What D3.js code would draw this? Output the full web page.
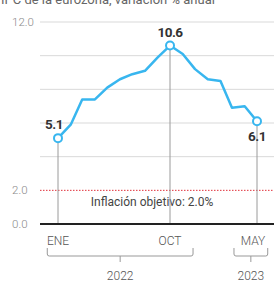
<!DOCTYPE html>
<html>
<head>
<meta charset="utf-8">
<script src="https://cdn.jsdelivr.net/npm/d3@7"></script>
<style>
  body { margin: 0; background: #fff; }
  svg { display: block; font-family: Roboto, "Noto Sans", sans-serif; }
</style>
</head>
<body>
<svg width="274" height="285"></svg>
<script>
// IPC eurozona, variación % anual (ene 2022 - may 2023)
const months = ["2022-01","2022-02","2022-03","2022-04","2022-05","2022-06","2022-07","2022-08",
  "2022-09","2022-10","2022-11","2022-12","2023-01","2023-02","2023-03","2023-04","2023-05"];
const values = [5.1, 5.9, 7.4, 7.4, 8.1, 8.6, 8.9, 9.1, 9.9, 10.6, 10.1, 9.2, 8.6, 8.5, 6.9, 7.0, 6.1];
const gridValues = [4, 6, 8, 10, 12];
const yTickLabels = [0, 2, 12];
const highlighted = [0, 9, 16]; // ENE, OCT, MAY
const monthLabels = ["ENE", "OCT", "MAY"];
const years = [{ label: "2022", from: "2021-12", to: "2022-12" }, { label: "2023", from: "2023-03", to: "2023-06" }];
const target = 2.0;

const parse = d3.timeParse("%Y-%m");
const data = months.map((m, i) => ({ date: parse(m), value: values[i] }));

const svg = d3.select("svg");

// scales
const x = d3.scaleTime()
    .domain([parse("2022-01"), parse("2023-05")])
    .range([58, 257]);
const y = d3.scaleLinear()
    .domain([0, 12])
    .range([224, 22]);

// title (cut off at the top in the original)
svg.append("text")
    .attr("x", 1)
    .attr("y", 4)
    .attr("font-size", 13)
    .attr("fill", "#666")
    .text("IPC de la eurozona, variación % anual");

// gridlines
svg.append("g")
    .selectAll("line")
    .data(gridValues)
    .join("line")
    .attr("x1", 40)
    .attr("x2", 274)
    .attr("y1", d => y(d))
    .attr("y2", d => y(d))
    .attr("stroke", "#d9d9d9")
    .attr("stroke-width", 1);

// y labels
svg.append("g")
    .selectAll("text")
    .data(yTickLabels)
    .join("text")
    .attr("x", 12)
    .attr("y", d => y(d))
    .attr("dy", "0.35em")
    .attr("font-size", 11.5)
    .attr("font-weight", 300)
    .attr("fill", "#8a8a8a")
    .text(d => d.toFixed(1));

// target line
svg.append("line")
    .attr("x1", 40)
    .attr("x2", 274)
    .attr("y1", y(target))
    .attr("y2", y(target))
    .attr("stroke", "#e0303a")
    .attr("stroke-width", 1)
    .attr("stroke-dasharray", "1.5,1.5");

svg.append("text")
    .attr("x", 152)
    .attr("y", y(target) + 16)
    .attr("text-anchor", "middle")
    .attr("font-size", 12)
    .attr("fill", "#444")
    .text("Inflación objetivo: " + target.toFixed(1) + "%");

// vertical drop lines at highlighted months
svg.append("g")
    .selectAll("line")
    .data(highlighted)
    .join("line")
    .attr("x1", i => x(data[i].date))
    .attr("x2", i => x(data[i].date))
    .attr("y1", i => y(data[i].value))
    .attr("y2", y(0))
    .attr("stroke", "#9a9a9a")
    .attr("stroke-width", 1);

// zero axis
svg.append("line")
    .attr("x1", 40)
    .attr("x2", 274)
    .attr("y1", y(0))
    .attr("y2", y(0))
    .attr("stroke", "#222")
    .attr("stroke-width", 2);

// main line
const line = d3.line()
    .x(d => x(d.date))
    .y(d => y(d.value));

svg.append("path")
    .datum(data)
    .attr("fill", "none")
    .attr("stroke", "#38b6ef")
    .attr("stroke-width", 2.5)
    .attr("stroke-linejoin", "round")
    .attr("d", line);

// markers
svg.append("g")
    .selectAll("circle")
    .data(highlighted)
    .join("circle")
    .attr("cx", i => x(data[i].date))
    .attr("cy", i => y(data[i].value))
    .attr("r", 4)
    .attr("fill", "#fff")
    .attr("stroke", "#38b6ef")
    .attr("stroke-width", 2);

// value labels
const labelPos = [
  { dx: -4, dy: -9 },
  { dx: 0, dy: -9 },
  { dx: 0, dy: 20 }
];
svg.append("g")
    .selectAll("text")
    .data(highlighted)
    .join("text")
    .attr("x", (i, k) => x(data[i].date) + labelPos[k].dx)
    .attr("y", (i, k) => y(data[i].value) + labelPos[k].dy)
    .attr("text-anchor", "middle")
    .attr("font-size", 13.5)
    .attr("font-weight", 700)
    .attr("letter-spacing", "-0.5")
    .attr("fill", "#333")
    .text(i => data[i].value.toFixed(1));

// month labels
svg.append("g")
    .selectAll("text")
    .data(highlighted)
    .join("text")
    .attr("x", (i, k) => x(data[i].date) + (k === 2 ? -4 : 0))
    .attr("y", 245)
    .attr("text-anchor", "middle")
    .attr("font-size", 12)
    .attr("font-weight", 300)
    .attr("fill", "#555")
    .text((i, k) => monthLabels[k]);

// year brackets
const bracket = svg.append("g")
    .attr("fill", "none")
    .attr("stroke", "#999")
    .attr("stroke-width", 1);

years.forEach(yr => {
  const x0 = x(parse(yr.from)) + 2;
  const x1 = Math.min(x(parse(yr.to)) - 2, 272);
  const xm = (x0 + x1) / 2;
  bracket.append("path")
      .attr("d", `M${x0},248 V254 Q${x0},256 ${x0 + 2},256 H${x1 - 2} Q${x1},256 ${x1},254 V248 M${xm},256 V262`);
  svg.append("text")
      .attr("x", xm)
      .attr("y", 280)
      .attr("text-anchor", "middle")
      .attr("font-size", 12)
      .attr("font-weight", 300)
      .attr("fill", "#555")
      .text(yr.label);
});
</script>
</body>
</html>
